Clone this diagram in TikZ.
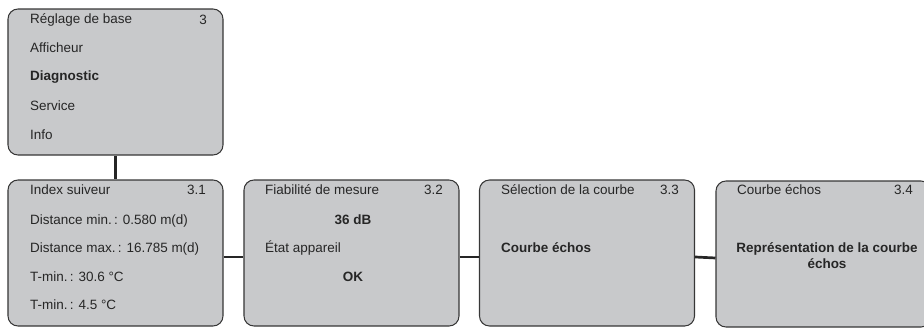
\documentclass[tikz,border=0pt]{standalone}
\usepackage{fontspec}
\setmainfont{Liberation Sans}
\usetikzlibrary{positioning}

\definecolor{boxgray}{RGB}{200,201,203}
\definecolor{linegray}{RGB}{55,55,55}

\begin{document}
\begin{tikzpicture}[x=0.03cm, y=-0.03cm, font=\fontsize{11.5}{13.5}\selectfont, text=black!85]

%====Definizione stile riquadri=============================================

	\tikzstyle{menu}=[draw=linegray, fill=boxgray, line width=0.9pt, rounded corners=0.3cm, minimum width=6.45cm, minimum height=4.38cm]
	\tikzstyle{riga}=[anchor=west, inner sep=0pt]
	\tikzstyle{num}=[anchor=east, inner sep=0pt]
	\tikzstyle{link}=[draw=black!85, line width=2.3pt]

	\clip (0,0) rectangle (924,328);

%====Riquadri e posizione===================================================

	\node[menu] (base)  at (115.5,82)  {};
	\node[menu] (index) at (115.5,253) {};
	\node[menu] (fiab)  at (351.5,253) {};
	\node[menu] (sel)   at (587,253)   {};
	\node[menu] (echo)  at (823.5,254) {};

%====Testi riquadro 3========================================================

	\node[riga] (t0)  at (30,20)  {Réglage de base};
	\node[num]  (n0)  at (207,20) {3};
	\node[riga] (t01) at (30,48)  {Afficheur};
	\node[riga] (t02) at (30,77)  {\bfseries Diagnostic};
	\node[riga] (t03) at (30,106) {Service};
	\node[riga] (t04) at (30,135) {Info};

%====Testi riquadri 3.1 - 3.4================================================

	\node[riga] (t1)  at (30,190)  {Index suiveur};
	\node[num]  (n1)  at (206,190) {3.1};
	\node[riga] (t11) at (30,221)  {Distance min.\,: 0.580 m(d)};
	\node[riga] (t12) at (30,249)  {Distance max.\,: 16.785 m(d)};
	\node[riga] (t13) at (30,277)  {T-min.\,: 30.6 °C};
	\node[riga] (t14) at (30,305)  {T-min.\,: 4.5 °C};

	\node[riga] (t2)  at (265,190) {Fiabilité de mesure};
	\node[num]  (n2)  at (443,190) {3.2};
	\node       (t21) at (353,220) {\bfseries 36 dB};
	\node[riga] (t22) at (265,248) {État appareil};
	\node       (t23) at (353,277) {\bfseries OK};

	\node[riga] (t3)  at (501,190) {Sélection de la courbe};
	\node[num]  (n3)  at (679,190) {3.3};
	\node[riga] (t31) at (501,248) {\bfseries Courbe échos};

	\node[riga] (t4)  at (737,190) {Courbe échos};
	\node[num]  (n4)  at (913,190) {3.4};
	\node[align=center, inner sep=0pt] (t41) at (827,256) {\bfseries Représentation de la courbe\\\bfseries échos};

%====Collegamenti=============================================================

	\draw[link] (base) -- (index);
	\draw[link] ([yshift=-3.4pt]index.east) -- ([yshift=-3.4pt]fiab.west);
	\draw[link] ([yshift=-3.4pt]fiab.east)  -- ([yshift=-3.4pt]sel.west);
	\draw[link] ([yshift=-3.4pt]sel.east)   -- ([yshift=-3.4pt]echo.west);
\end{tikzpicture}
\end{document}
